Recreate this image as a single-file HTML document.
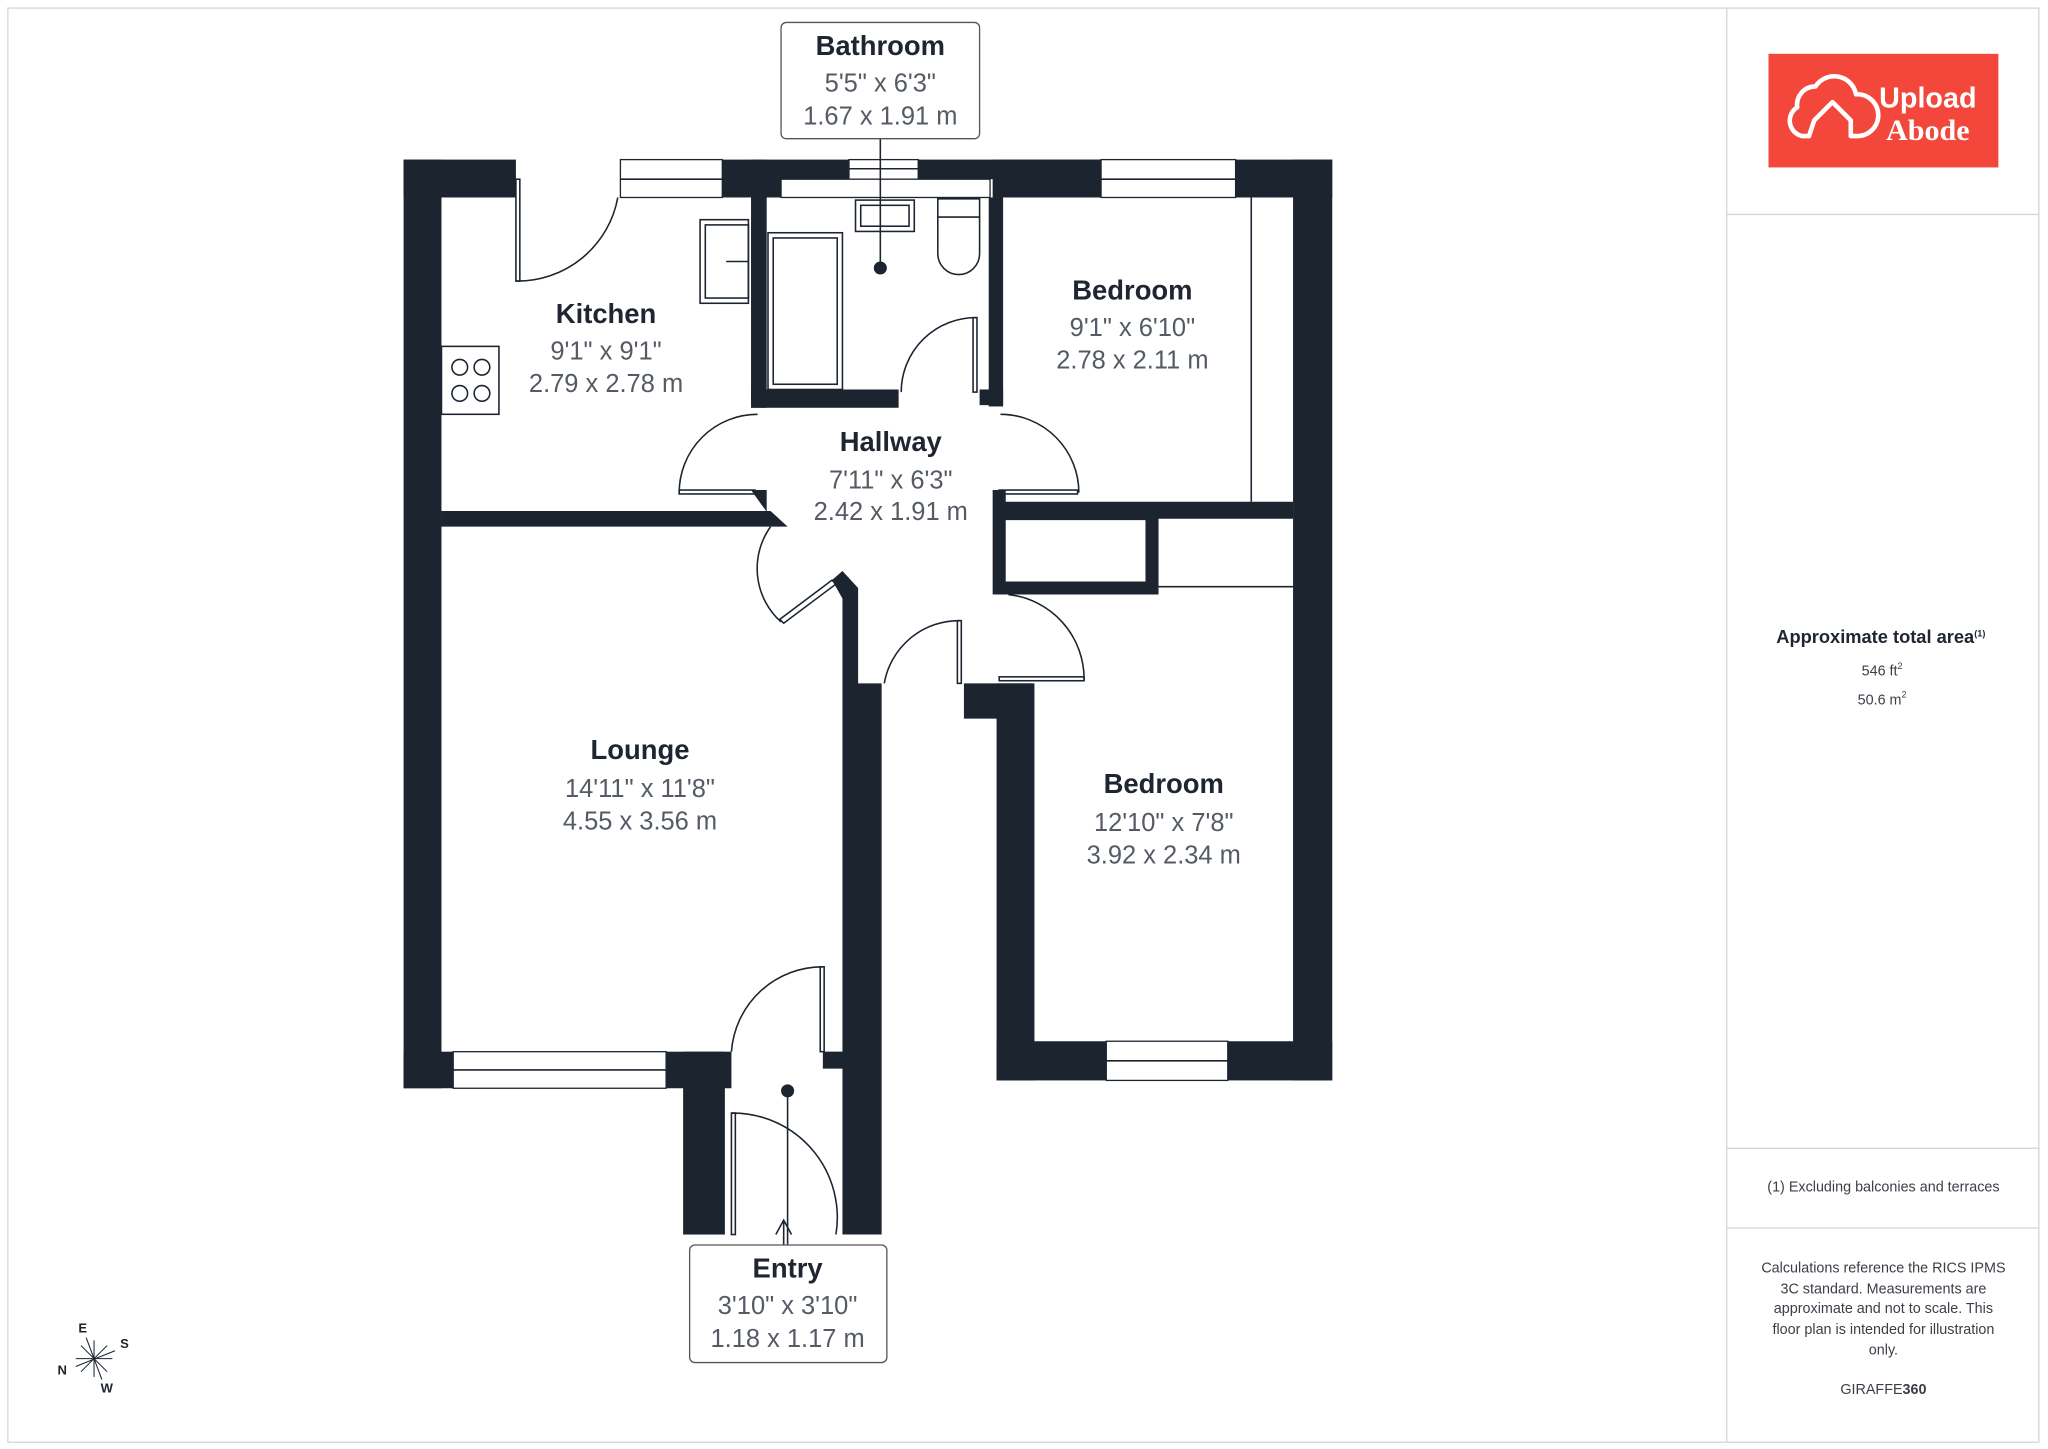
<!DOCTYPE html>
<html><head><meta charset="utf-8"><style>
html,body{margin:0;padding:0;background:#fff;width:2048px;height:1449px;overflow:hidden}
svg{display:block}
.t{font-family:"Liberation Sans",sans-serif;font-weight:bold;fill:#1f2631;font-size:21px;text-anchor:middle}
.d{font-family:"Liberation Sans",sans-serif;fill:#555b64;font-size:19.5px;text-anchor:middle}
.s{font-family:"Liberation Sans",sans-serif;fill:#3a3f47;font-size:11px;text-anchor:middle}
.w{fill:#1c2430}
.ln{fill:none;stroke:#1c2430;stroke-width:1.2}
.win{fill:#fff;stroke:#1c2430;stroke-width:1}
</style></head><body>
<svg width="2048" height="1449" viewBox="0 0 1568 1109" xmlns="http://www.w3.org/2000/svg">
<rect x="6" y="6" width="1555" height="1098" fill="none" stroke="#d6d6d6" stroke-width="1"/>
<line x1="1322" y1="6" x2="1322" y2="1104" stroke="#d6d6d6"/>
<line x1="1322" y1="164" x2="1561" y2="164" stroke="#d6d6d6"/>
<line x1="1322" y1="879" x2="1561" y2="879" stroke="#d6d6d6"/>
<line x1="1322" y1="940" x2="1561" y2="940" stroke="#d6d6d6"/>
<!-- logo -->
<rect x="1354" y="41" width="176" height="87" fill="#f2473a"/>
<path d="M1385 104 h-5 a12 12 0 0 1 -4 -22 a14 14 0 0 1 14 -16 a17 17 0 0 1 31 6 a12 12 0 0 1 2 32 h-6 v-12 l-14 -14 l-14 14 z" fill="none" stroke="#fff" stroke-width="3.5" stroke-linejoin="round"/>
<text x="1476" y="82" font-family="Liberation Sans,sans-serif" font-size="22" font-weight="bold" fill="#fff" text-anchor="middle">Upload</text>
<text x="1476" y="107" font-family="Liberation Serif,serif" font-size="23" font-weight="bold" fill="#fff" text-anchor="middle">Abode</text>
<text x="1440" y="492" font-family="Liberation Sans,sans-serif" font-weight="bold" font-size="14" fill="#1f2631" text-anchor="middle">Approximate total area<tspan font-size="7" dy="-5">(1)</tspan></text>
<text x="1441" y="517" class="s" font-size="12.5">546 ft<tspan font-size="7" dy="-5">2</tspan></text>
<text x="1441" y="539" class="s" font-size="12.5">50.6 m<tspan font-size="7" dy="-5">2</tspan></text>
<text x="1442" y="912" class="s">(1) Excluding balconies and terraces</text>
<text x="1442" y="974" class="s">Calculations reference the RICS IPMS</text>
<text x="1442" y="990" class="s">3C standard. Measurements are</text>
<text x="1442" y="1005" class="s">approximate and not to scale. This</text>
<text x="1442" y="1021" class="s">floor plan is intended for illustration</text>
<text x="1442" y="1037" class="s">only.</text>
<text x="1442" y="1067" class="s" font-size="12">GIRAFFE<tspan font-weight="bold">360</tspan></text>
<!-- compass -->
<g stroke="#1c2430" stroke-width="0.8">
<line x1="58" y1="1040" x2="86" y2="1040"/><line x1="72" y1="1026" x2="72" y2="1054"/>
<line x1="62" y1="1030" x2="82" y2="1050"/><line x1="82" y1="1030" x2="62" y2="1050"/>
<line x1="66" y1="1024" x2="78" y2="1056"/><line x1="58" y1="1046" x2="88" y2="1034"/>
</g>
<text x="60" y="1020" font-family="Liberation Sans,sans-serif" font-weight="bold" font-size="10" fill="#1c2430">E</text>
<text x="92" y="1032" font-family="Liberation Sans,sans-serif" font-weight="bold" font-size="10" fill="#1c2430">S</text>
<text x="44" y="1052" font-family="Liberation Sans,sans-serif" font-weight="bold" font-size="10" fill="#1c2430">N</text>
<text x="77" y="1066" font-family="Liberation Sans,sans-serif" font-weight="bold" font-size="10" fill="#1c2430">W</text>
<!-- walls -->
<rect class="w" x="309" y="122" width="29" height="711"/>
<rect class="w" x="309" y="122" width="86" height="29"/>
<rect class="w" x="553" y="122" width="97" height="29"/>
<rect class="w" x="703" y="122" width="140" height="15"/>
<rect class="w" x="760" y="122" width="83" height="29"/>
<rect class="w" x="946" y="122" width="74" height="29"/>
<rect class="w" x="990" y="122" width="30" height="705"/>
<rect class="w" x="575" y="122" width="12" height="190"/>
<rect class="w" x="575" y="298" width="113" height="14"/>
<rect class="w" x="757" y="151" width="11" height="160"/>
<rect class="w" x="750" y="298" width="18" height="12"/>
<polygon class="w" points="338,391 590,391 603,403 590,403 338,403"/>
<polygon class="w" points="575,375 587,375 587,391 603,403 593,400"/>
<polygon class="w" points="637,444 645,437 657,450 657,523 675,523 675,945 645,945 645,818 630,818 630,805 645,805 645,458"/>
<path class="w" d="M760 375 h10 v9 h120 v-0 h100 v13 h-103 v58 h-127 z M770 398 v47 h107 v-47 z" fill-rule="evenodd"/>
<polygon class="w" points="738,523 790,523 790,550 738,550"/>
<rect class="w" x="763" y="523" width="29" height="304"/>
<rect class="w" x="763" y="797" width="257" height="30"/>
<rect class="w" x="309" y="805" width="251" height="28"/>
<rect class="w" x="523" y="805" width="32" height="140"/>
<!-- windows -->
<rect class="win" x="475" y="122" width="78" height="29"/><line class="ln" x1="475" y1="137" x2="553" y2="137"/>
<rect class="win" x="650" y="122" width="53" height="15"/><line class="ln" x1="650" y1="129" x2="703" y2="129"/>
<rect class="win" x="598" y="137" width="160" height="14"/>
<rect class="win" x="843" y="122" width="103" height="29"/><line class="ln" x1="843" y1="137" x2="946" y2="137"/>
<rect class="win" x="347" y="805" width="163" height="28"/><line class="ln" x1="347" y1="819" x2="510" y2="819"/>
<rect class="win" x="847" y="797" width="93" height="30"/><line class="ln" x1="847" y1="812" x2="940" y2="812"/>
<!-- wardrobes -->
<line class="ln" x1="958" y1="151" x2="958" y2="384"/>
<line class="ln" x1="770" y1="388" x2="875" y2="388"/>
<line class="ln" x1="887" y1="449" x2="990" y2="449"/>
<!-- fixtures -->
<rect class="ln" x="588" y="178" width="57" height="120"/><rect class="ln" x="592" y="182" width="49" height="112"/>
<rect class="ln" x="655" y="153" width="45" height="24"/><rect class="ln" x="659" y="157" width="37" height="16"/>
<path class="ln" d="M718 152 h32 v42 a16 16 0 0 1 -32 0 z"/><line class="ln" x1="718" y1="166" x2="750" y2="166"/>
<rect class="ln" x="536" y="168" width="37" height="64"/><rect class="ln" x="540" y="172" width="33" height="56"/><line class="ln" x1="556" y1="200" x2="573" y2="200"/>
<rect class="ln" x="338" y="265" width="44" height="52"/>
<circle class="ln" cx="352" cy="281" r="6"/><circle class="ln" cx="369" cy="281" r="6"/>
<circle class="ln" cx="352" cy="301" r="6"/><circle class="ln" cx="369" cy="301" r="6"/>
<!-- doors -->
<rect class="ln" x="395" y="137" width="3" height="78"/><path class="ln" d="M395 215 A78 78 0 0 0 473 151"/>
<rect class="ln" x="745" y="243" width="3" height="57"/><path class="ln" d="M748 243 A57 57 0 0 0 690 300"/>
<rect class="ln" x="520" y="375" width="58" height="3"/><path class="ln" d="M520 377 A60 60 0 0 1 580 317"/>
<rect class="ln" x="765" y="375" width="60" height="3"/><path class="ln" d="M826 377 A60 60 0 0 0 766 317"/>
<polygon class="ln" points="637,444 640,447 600,477 597,474"/><path class="ln" d="M598 476 A55 55 0 0 1 590 403"/>
<rect class="ln" x="765" y="518" width="65" height="3"/><path class="ln" d="M830 520 A65 65 0 0 0 772 455"/>
<rect class="ln" x="733" y="475" width="3" height="48"/><path class="ln" d="M735 475 A58 58 0 0 0 677 523"/>
<rect class="ln" x="628" y="740" width="3" height="65"/><path class="ln" d="M630 740 A70 70 0 0 0 560 805"/>
<rect class="ln" x="560" y="852" width="3" height="93"/><path class="ln" d="M560 852 A80 80 0 0 1 640 945"/>
<!-- markers -->
<circle cx="674" cy="205" r="5" fill="#1c2430"/><line class="ln" x1="674" y1="106" x2="674" y2="205"/>
<circle cx="603" cy="835" r="5" fill="#1c2430"/><line class="ln" x1="603" y1="835" x2="603" y2="953"/>
<path class="ln" d="M594 945 L600 934 L606 945 M600 934 V953"/>
<!-- label boxes -->
<rect x="598" y="17" width="152" height="89" rx="4" fill="#fff" stroke="#555" stroke-width="1"/>
<rect x="528" y="953" width="151" height="90" rx="4" fill="#fff" stroke="#555" stroke-width="1"/>
<!-- texts -->
<text class="t" x="674" y="42">Bathroom</text><text class="d" x="674" y="70">5'5" x 6'3"</text><text class="d" x="674" y="95">1.67 x 1.91 m</text>
<text class="t" x="464" y="247">Kitchen</text><text class="d" x="464" y="275">9'1" x 9'1"</text><text class="d" x="464" y="300">2.79 x 2.78 m</text>
<text class="t" x="867" y="229">Bedroom</text><text class="d" x="867" y="257">9'1" x 6'10"</text><text class="d" x="867" y="282">2.78 x 2.11 m</text>
<text class="t" x="682" y="345">Hallway</text><text class="d" x="682" y="374">7'11" x 6'3"</text><text class="d" x="682" y="398">2.42 x 1.91 m</text>
<text class="t" x="490" y="581">Lounge</text><text class="d" x="490" y="610">14'11" x 11'8"</text><text class="d" x="490" y="635">4.55 x 3.56 m</text>
<text class="t" x="891" y="607">Bedroom</text><text class="d" x="891" y="636">12'10" x 7'8"</text><text class="d" x="891" y="661">3.92 x 2.34 m</text>
<text class="t" x="603" y="978">Entry</text><text class="d" x="603" y="1006">3'10" x 3'10"</text><text class="d" x="603" y="1031">1.18 x 1.17 m</text>
</svg>
</body></html>
